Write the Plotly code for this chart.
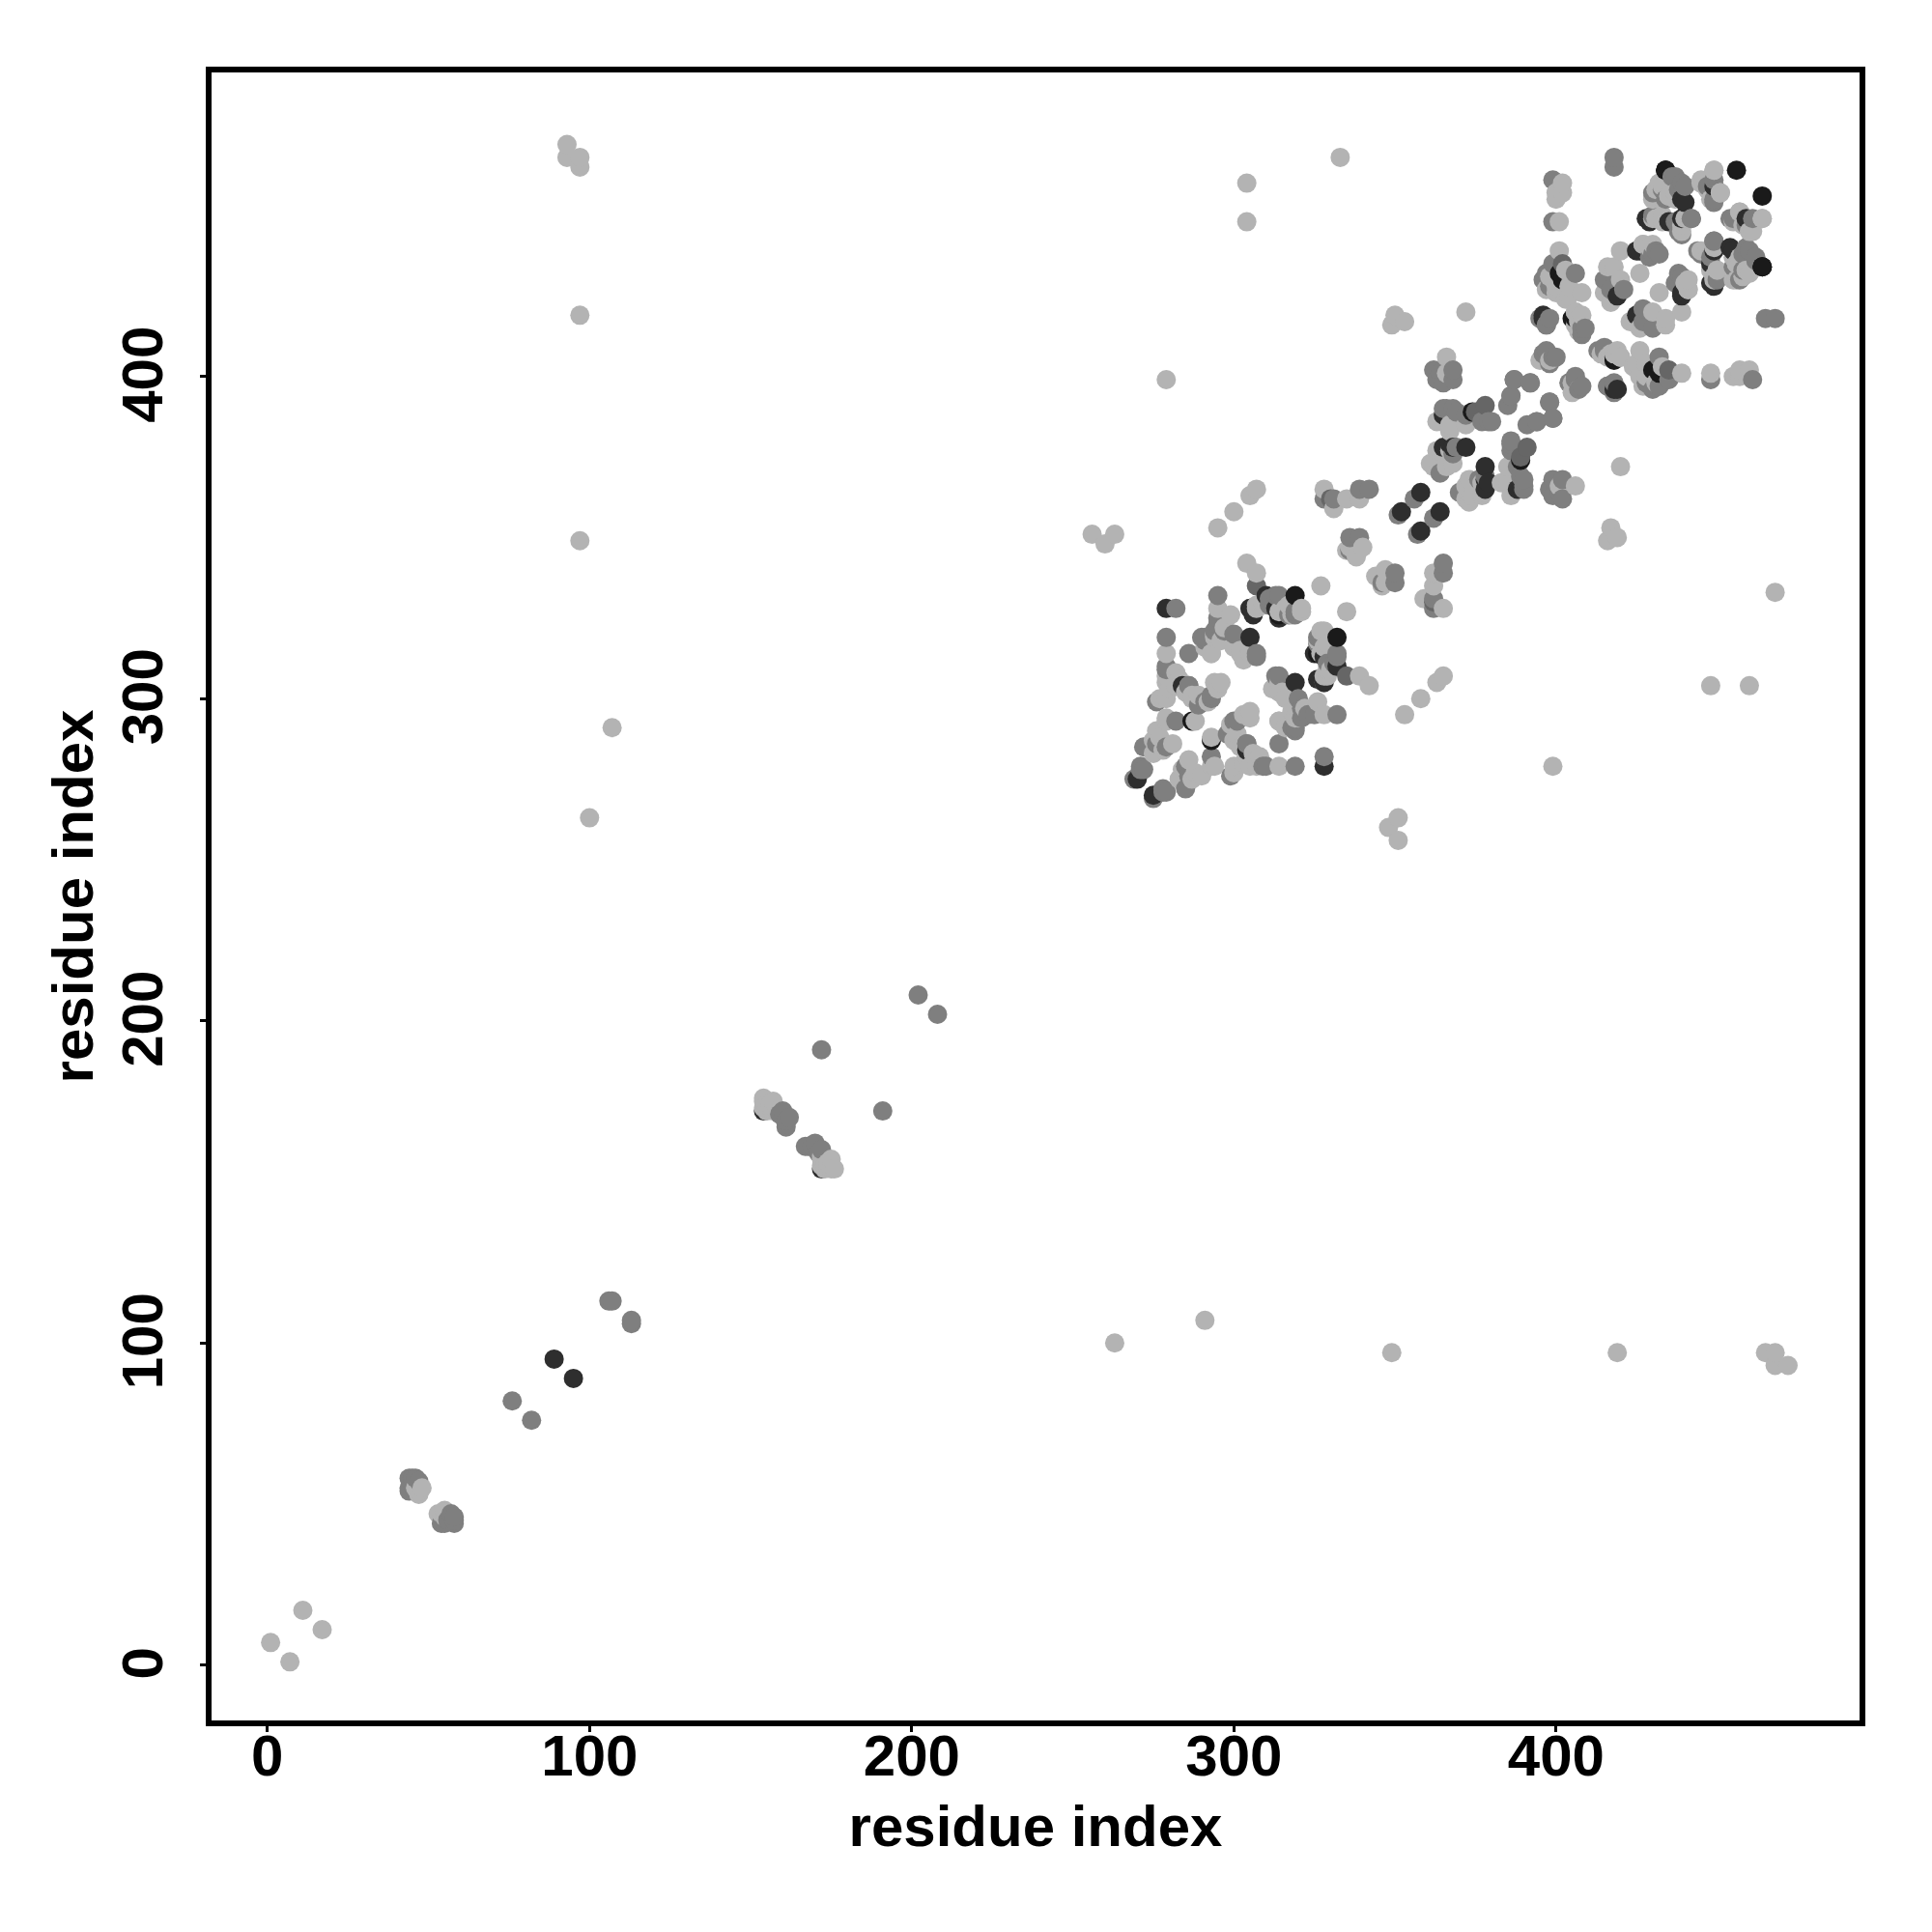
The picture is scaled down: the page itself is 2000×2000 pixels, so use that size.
import plotly.graph_objects as go

# residue contact pairs (i, j), i < j, grouped by grey level; the map is symmetric
shade_light = [
    (1,7),(11,17),(93,472),(93,468),(97,468),(97,465),(97,419),(97,349),(107,291),(100,263),
    (47,53),(48,55),(46,55),(47,54),(154,176),(157,175),(156,174),(154,173),(155,172),(157,172),
    (155,173),(154,175),(155,174),(158,172),
    (304,460),(304,448),(333,468),(279,399),(256,351),(263,351),(260,348),(295,353),(300,358),
    (305,363),(307,365),(327,335),(304,342),(307,339),(372,420),(353,417),(349,416),(350,419),
    (328,365),(331,359),(335,362),(339,362),(340,347),(336,347),(338,344),(335,346),
    (276,290),(275,287),(277,288),(281,286),(275,283),(278,284),(279,314),(282,308),(279,305),
    (277,300),(279,300),(279,294),(280,303),(287,301),(288,293),(285,302),(294,305),(296,305),
    (292,299),(295,328),(299,326),(293,314),(291,316),(296,318),(302,315),(303,312),(294,320),
    (300,316),(307,329),(309,330),(316,328),(317,329),(321,328),(321,327),(309,329),(307,328),
    (318,326),(314,327),(279,293),(282,304),(283,306),(279,307),(295,303),(297,322),(294,319),
    (289,301),(287,300),(305,314),(302,314),(293,314),
    (402,460),(402,457),(400,455),(401,448),(400,457),(432,460),(430,456),(435,456),(437,455),
    (449,464),(445,461),(448,455),(451,457),(430,449),(440,449),(433,450),(439,447),
    (464,449),(457,451),(460,445),(458,447),(401,439),(398,431),(400,426),(397,427),(400,428),
    (408,426),(404,428),(403,424),(404,425),(403,433),(420,439),(426,432),(427,441),(429,440),
    (416,434),(418,434),(415,426),(417,423),(420,430),(441,430),(441,427),(445,439),(449,431),
    (448,433),(456,435),(455,430),(457,437),(459,433),(458,431),(406,420),(408,419),(407,417),
    (407,414),(418,407),(420,406),(416,406),(395,405),(407,396),(405,398),
    (366,406),(366,401),(363,386),(372,385),(367,385),(367,383),(363,377),(361,373),(366,372),
    (362,372),(368,373),(363,374),(364,377),(367,377),
]
shade_mid = [
    (45,58),(47,57),(44,58),(44,55),(44,54),(46,58),(45,56),(76,82),(106,113),(107,113),
    (172,191),(202,208),(160,172),(162,170),(161,167),(161,169),(159,171),(161,168),
    (269,275),(271,278),(272,278),(271,279),(272,285),(279,285),(276,286),(279,319),(279,310),
    (279,309),(276,299),(286,314),(282,293),(295,332),(282,328),(295,323),(291,319),(297,321),
    (300,320),(307,314),(286,304),(293,300),(291,299),(293,301),(289,298),(313,332),(311,331),
    (305,328),(319,327),(317,326),(319,326),(314,332),(311,329),(295,325),(294,321),(290,319),
    (291,318),(304,286),(307,313),
    (418,468),(418,465),(399,461),(399,448),(437,462),(440,459),(433,458),(438,458),(449,454),
    (447,459),(437,448),(442,449),(438,445),(455,449),(461,449),(399,435),(396,430),(406,432),
    (432,438),(430,438),(415,430),(421,427),(417,427),(439,431),(437,429),(449,442),(444,439),
    (450,430),(460,439),(462,436),(457,430),(455,434),(397,416),(398,418),(395,418),(409,415),
    (415,408),(413,408),(396,407),(400,406),(398,404),(406,399),(408,397),(392,398),(387,399),
    (386,394),(398,392),(399,387),(394,386),(391,385),(416,397),(397,432),(398,428),
    (362,402),(368,402),(368,399),(363,399),(365,398),(364,401),(380,386),(377,386),(379,386),
    (369,389),(372,388),(366,390),(368,390),(365,390),(369,378),(368,376),(364,370),(356,362),
    (351,357),(328,362),(331,362),(339,365),(342,365),(336,350),(339,350),(336,346),
]
shade_gray = [
    (307,335),(378,391),(402,435),(330,362),(375,389),
]
shade_dark = [
    (89,95),(154,172),(270,275),(279,328),(284,304),(310,332),(306,326),(305,328),(313,328),
    (314,325),(305,319),(434,464),(440,454),(428,449),(435,448),(459,449),(425,439),(419,425),
    (439,426),(449,439),(448,429),(455,439),(396,419),(418,396),(365,388),(372,378),(367,379),
    (365,378),(368,378),(358,364),(352,358),
]
shade_black = [
    (319,332),(314,326),(287,293),(456,464),(401,432),(405,418),(418,406),(402,430),(374,389),
    (434,464),(464,434),
]
grey_levels = {"#b3b3b3": shade_light, "#7f7f7f": shade_mid, "#666666": shade_gray,
               "#2e2e2e": shade_dark, "#1a1a1a": shade_black}
tick_values = [0, 100, 200, 300, 400]
axis_title = "residue index"

# drawn in ascending x, as in the reference, so later columns lie on top
points = []
for colour, pairs in grey_levels.items():
    for i, j in pairs:
        points.append((i, j, colour))
        points.append((j, i, colour))
points.sort(key=lambda p: (p[0], p[1]))

fig = go.Figure(go.Scatter(
    x=[p[0] for p in points], y=[p[1] for p in points], mode="markers",
    marker=dict(size=20, color=[p[2] for p in points], line=dict(width=0)),
))
font_ticks = dict(family="Liberation Sans", size=60, color="black", weight=700)
axis_common = dict(
    showgrid=False, zeroline=False, showline=True, mirror=True, linecolor="black", linewidth=6,
    ticks="outside", ticklen=6, tickwidth=3, tickcolor="black", tickvals=tick_values,
    tickfont=font_ticks,
)
fig.update_xaxes(range=[-17.33, 494.2], ticklabelstandoff=-27,
                 title=dict(text=axis_title, font=font_ticks, standoff=21), **axis_common)
fig.update_yaxes(range=[-17.18, 494.36], tickangle=-90, ticklabelstandoff=15, ticklabelshift=7,
                 title=dict(text=axis_title, font=font_ticks, standoff=0), **axis_common)
fig.update_layout(width=2000, height=2000, margin=dict(l=211, r=83, t=67, b=227, autoexpand=False),
                  paper_bgcolor="white", plot_bgcolor="white", showlegend=False)
fig.write_html("out.html")
